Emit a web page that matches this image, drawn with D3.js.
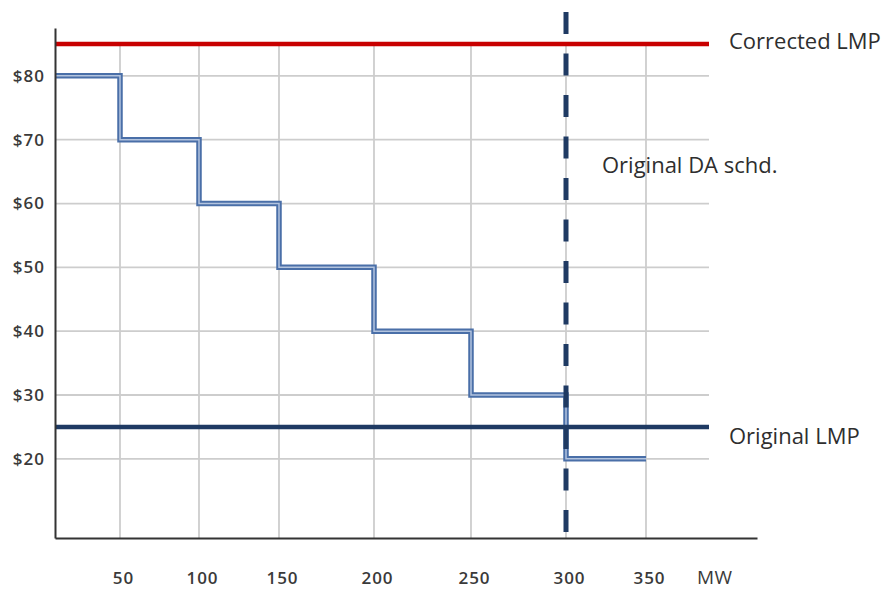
<!DOCTYPE html>
<html>
<head>
<meta charset="utf-8">
<script src="https://cdn.jsdelivr.net/npm/d3@7"></script>
<style>
  body { margin: 0; background: #fff; }
  #chart text { font-family: "Open Sans", sans-serif; }
</style>
</head>
<body>
<div id="chart"></div>
<script>
// Data
const mwSteps = [0, 50, 100, 150, 200, 250, 300, 350];
const priceSteps = [80, 70, 60, 50, 40, 30, 20, 20];
const xTicks = [50, 100, 150, 200, 250, 300, 350];
const yTicks = [20, 30, 40, 50, 60, 70, 80];
const correctedLMP = 85;
const originalLMP = 25;
const daScheduleMW = 300;
const lineEndMW = 400;
const labels = ["Corrected LMP", "Original DA schd.", "Original LMP"];
const unitLabel = "MW";

function draw() {
  // Dimensions
  const dimensions = { width: 890, height: 590 };

  const svg = d3
    .select("#chart")
    .append("svg")
    .attr("width", dimensions.width)
    .attr("height", dimensions.height);

  // Scales (the source diagram has uneven x spacing)
  const xScale = d3
    .scaleLinear()
    .domain([0, 50, 100, 150, 200, 250, 300, 350, 400, 440])
    .range([55, 120, 199, 279, 374, 471, 566, 646, 709, 757]);

  const yScale = d3.scaleLinear().domain([7.6, 87.5]).range([538, 28]);

  const data = mwSteps.map((mw, i) => ({ mw, price: priceSteps[i] }));

  // Grid
  const grid = svg.append("g").attr("stroke", "#cdcdcd").attr("stroke-width", 1.8);
  grid
    .selectAll(".h")
    .data(yTicks)
    .join("line")
    .attr("x1", xScale(0))
    .attr("x2", xScale(lineEndMW))
    .attr("y1", (d) => yScale(d))
    .attr("y2", (d) => yScale(d));
  grid
    .selectAll(".v")
    .data(xTicks)
    .join("line")
    .attr("x1", (d) => xScale(d))
    .attr("x2", (d) => xScale(d))
    .attr("y1", yScale(correctedLMP))
    .attr("y2", yScale(7.6));

  // Supply steps (double line)
  const line = d3
    .line()
    .x((d) => xScale(d.mw))
    .y((d) => yScale(d.price))
    .curve(d3.curveStepAfter);

  svg
    .append("path")
    .datum(data)
    .attr("d", line)
    .attr("fill", "none")
    .attr("stroke", "#4a6fa8")
    .attr("stroke-width", 5.5);
  svg
    .append("path")
    .datum(data)
    .attr("d", line)
    .attr("fill", "none")
    .attr("stroke", "#b3c4de")
    .attr("stroke-width", 1.5);

  // LMP lines
  svg
    .append("line")
    .attr("x1", xScale(0))
    .attr("x2", xScale(lineEndMW))
    .attr("y1", yScale(correctedLMP))
    .attr("y2", yScale(correctedLMP))
    .attr("stroke", "#c80000")
    .attr("stroke-width", 4.5);

  svg
    .append("line")
    .attr("x1", xScale(0))
    .attr("x2", xScale(lineEndMW))
    .attr("y1", yScale(originalLMP))
    .attr("y2", yScale(originalLMP))
    .attr("stroke", "#1f3a63")
    .attr("stroke-width", 4.5);

  // DA schedule
  svg
    .append("line")
    .attr("x1", xScale(daScheduleMW))
    .attr("x2", xScale(daScheduleMW))
    .attr("y1", yScale(90))
    .attr("y2", yScale(7.6))
    .attr("stroke", "#1f3a63")
    .attr("stroke-width", 5)
    .attr("stroke-dasharray", "22,19.5");

  // Axes
  const xAxis = d3
    .axisBottom(xScale)
    .tickValues(xTicks)
    .tickSize(0)
    .tickPadding(34);
  const yAxis = d3
    .axisLeft(yScale)
    .tickValues(yTicks)
    .tickFormat((d) => "$" + d)
    .tickSize(0)
    .tickPadding(10);

  const gx = svg
    .append("g")
    .attr("transform", `translate(0, ${yScale(7.6)})`)
    .call(xAxis);
  const gy = svg
    .append("g")
    .attr("transform", `translate(${xScale(0)}, 0)`)
    .call(yAxis);

  [gx, gy].forEach((g) => {
    g.select(".domain").attr("stroke", "#333").attr("stroke-width", 2);
    g.selectAll("text")
      .attr("fill", "#3a3a3a")
      .style("font-size", "17px")
      .style("font-weight", 600)
      .style("letter-spacing", "1px");
  });
  gx.selectAll("text").attr("dx", 3);

  svg
    .append("text")
    .attr("x", 697)
    .attr("y", 584)
    .attr("fill", "#3a3a3a")
    .style("font-size", "19px")
    .style("letter-spacing", "0.5px")
    .text(unitLabel);

  // Annotations
  const notes = svg
    .append("g")
    .attr("fill", "#2e2e2e")
    .style("font-size", "22px");
  notes.append("text").attr("x", 729).attr("y", 49).text(labels[0]);
  notes.append("text").attr("x", 602).attr("y", 173).text(labels[1]);
  notes.append("text").attr("x", 729).attr("y", 444).text(labels[2]);
}

draw();
</script>
</body>
</html>
